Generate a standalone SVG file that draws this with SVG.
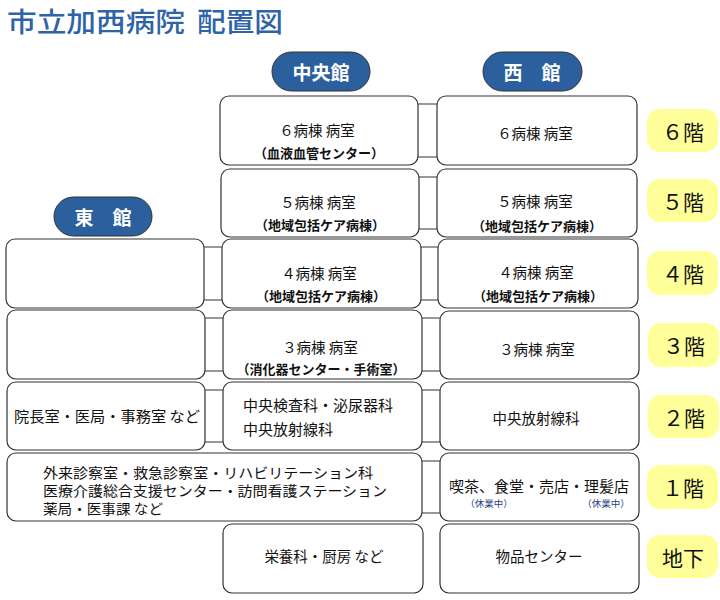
<svg xmlns="http://www.w3.org/2000/svg" width="720" height="600" viewBox="0 0 720 600">
<style>
.bx{fill:#fff;stroke:#333;stroke-width:1.2}
.pill{fill:#2b5f9e;stroke:#333;stroke-width:1}
.fl{fill:#ffff99}
.t{font-family:"Noto Sans CJK JP","Noto Sans",sans-serif;fill:#111;font-size:14.5px;dominant-baseline:central}
.c{text-anchor:middle}
.p{font-size:13px;font-weight:bold}
.pt{font-family:"Noto Sans CJK JP",sans-serif;fill:#fff;font-size:19px;font-weight:bold;text-anchor:middle;dominant-baseline:central}
.ft{font-family:"Noto Sans CJK JP",sans-serif;fill:#111;font-size:21px;text-anchor:middle;dominant-baseline:central}
.sm{font-size:9.5px;fill:#2a3f85}
.cn{fill:none;stroke:#333;stroke-width:1.2}
.ti{font-family:"Noto Sans CJK JP",sans-serif;font-size:27px;fill:#2e63a8;font-weight:500}
</style>
<rect width="720" height="600" fill="#fff"/>
<text class="ti" x="7" y="32" textLength="178" lengthAdjust="spacingAndGlyphs">市立加西病院</text>
<text class="ti" x="197" y="32" textLength="86" lengthAdjust="spacingAndGlyphs">配置図</text>

<g id="connectors">
<path class="cn" d="M418 104H437M418 157H437"/>
<path class="cn" d="M419 177H437M419 229H437"/>
<path class="cn" d="M421 247H438M421 300H438"/>
<path class="cn" d="M422 318H440M422 371H440"/>
<path class="cn" d="M422 390H440M422 442H440"/>
<path class="cn" d="M422 461H440M422 513H440"/>
<path class="cn" d="M204 247H222M204 300H222"/>
<path class="cn" d="M205 318H223M205 371H223"/>
<path class="cn" d="M205 390H223M205 442H223"/>
</g>

<g id="pill-chuo"><rect class="pill" x="272" y="52" width="98" height="39" rx="19.5"/><text class="pt" x="321" y="71">中央館</text></g>
<g id="pill-nishi"><rect class="pill" x="483" y="52" width="99" height="39" rx="19.5"/><text class="pt" x="532" y="71">西　館</text></g>
<g id="pill-higashi"><rect class="pill" x="54" y="197" width="98" height="39" rx="19.5"/><text class="pt" x="103" y="216">東　館</text></g>

<g id="c6"><rect class="bx" x="220" y="96" width="198" height="69" rx="9"/><text class="t c" x="317" y="129">６病棟 病室</text><text class="t c p" x="319" y="152">（血液血管センター）</text></g>
<g id="w6"><rect class="bx" x="437" y="96" width="200" height="69" rx="9"/><text class="t c" x="535" y="132">６病棟 病室</text></g>
<g id="c5"><rect class="bx" x="221" y="169" width="198" height="68" rx="9"/><text class="t c" x="318" y="201">５病棟 病室</text><text class="t c p" x="320" y="224">（地域包括ケア病棟）</text></g>
<g id="w5"><rect class="bx" x="437" y="169" width="200" height="68" rx="9"/><text class="t c" x="535" y="200">５病棟 病室</text><text class="t c p" x="537" y="225">（地域包括ケア病棟）</text></g>
<g id="e4"><rect class="bx" x="6" y="239" width="198" height="69" rx="9"/></g>
<g id="c4"><rect class="bx" x="222" y="239" width="199" height="69" rx="9"/><text class="t c" x="319" y="272">４病棟 病室</text><text class="t c p" x="321" y="295">（地域包括ケア病棟）</text></g>
<g id="w4"><rect class="bx" x="438" y="239" width="200" height="69" rx="9"/><text class="t c" x="536" y="271">４病棟 病室</text><text class="t c p" x="538" y="295">（地域包括ケア病棟）</text></g>
<g id="e3"><rect class="bx" x="7" y="310" width="198" height="69" rx="9"/></g>
<g id="c3"><rect class="bx" x="223" y="310" width="199" height="69" rx="9"/><text class="t c" x="320" y="346">３病棟 病室</text><text class="t c p" x="321" y="368">（消化器センター・手術室）</text></g>
<g id="w3"><rect class="bx" x="440" y="311" width="199" height="68" rx="9"/><text class="t c" x="537" y="348">３病棟 病室</text></g>
<g id="e2"><rect class="bx" x="7" y="382" width="198" height="68" rx="9"/><text class="t" x="14" y="415" textLength="186" lengthAdjust="spacingAndGlyphs">院長室・医局・事務室 など</text></g>
<g id="c2"><rect class="bx" x="223" y="382" width="199" height="68" rx="9"/><text class="t" x="243" y="404" style="font-size:15px">中央検査科・泌尿器科</text><text class="t" x="243" y="428" style="font-size:15px">中央放射線科</text></g>
<g id="w2"><rect class="bx" x="440" y="382" width="199" height="68" rx="9"/><text class="t c" x="536" y="417">中央放射線科</text></g>
<g id="e1"><rect class="bx" x="7" y="453" width="415" height="68" rx="9"/><text class="t" x="43" y="472" style="font-size:14px" textLength="330" lengthAdjust="spacingAndGlyphs">外来診察室・救急診察室・リハビリテーション科</text><text class="t" x="43" y="490" style="font-size:14px" textLength="344" lengthAdjust="spacingAndGlyphs">医療介護総合支援センター・訪問看護ステーション</text><text class="t" x="43" y="508" style="font-size:14px" textLength="120" lengthAdjust="spacingAndGlyphs">薬局・医事課 など</text></g>
<g id="w1"><rect class="bx" x="440" y="453" width="199" height="68" rx="9"/><text class="t c" x="539" y="485" style="font-size:15px">喫茶、食堂・売店・理髪店</text><text class="t c sm" x="489" y="503">（休業中）</text><text class="t c sm" x="606" y="503">（休業中）</text></g>
<g id="cB"><rect class="bx" x="223" y="524" width="200" height="69" rx="9"/><text class="t c" x="324" y="555">栄養科・厨房 など</text></g>
<g id="wB"><rect class="bx" x="440" y="524" width="199" height="69" rx="9"/><text class="t c" x="539" y="555">物品センター</text></g>

<g id="f6"><rect class="fl" x="647" y="109" width="71" height="43" rx="13"/><text class="ft" x="683" y="131">６階</text></g>
<g id="f5"><rect class="fl" x="647" y="179" width="71" height="43" rx="13"/><text class="ft" x="683" y="201">５階</text></g>
<g id="f4"><rect class="fl" x="647" y="251" width="71" height="44" rx="13"/><text class="ft" x="683" y="273">４階</text></g>
<g id="f3"><rect class="fl" x="648" y="323" width="71" height="44" rx="13"/><text class="ft" x="684" y="345">３階</text></g>
<g id="f2"><rect class="fl" x="648" y="395" width="71" height="43" rx="13"/><text class="ft" x="684" y="417">２階</text></g>
<g id="f1"><rect class="fl" x="647" y="465" width="71" height="44" rx="13"/><text class="ft" x="683" y="487">１階</text></g>
<g id="fB"><rect class="fl" x="647" y="535" width="71" height="43" rx="13"/><text class="ft" x="683" y="557">地下</text></g>
</svg>
